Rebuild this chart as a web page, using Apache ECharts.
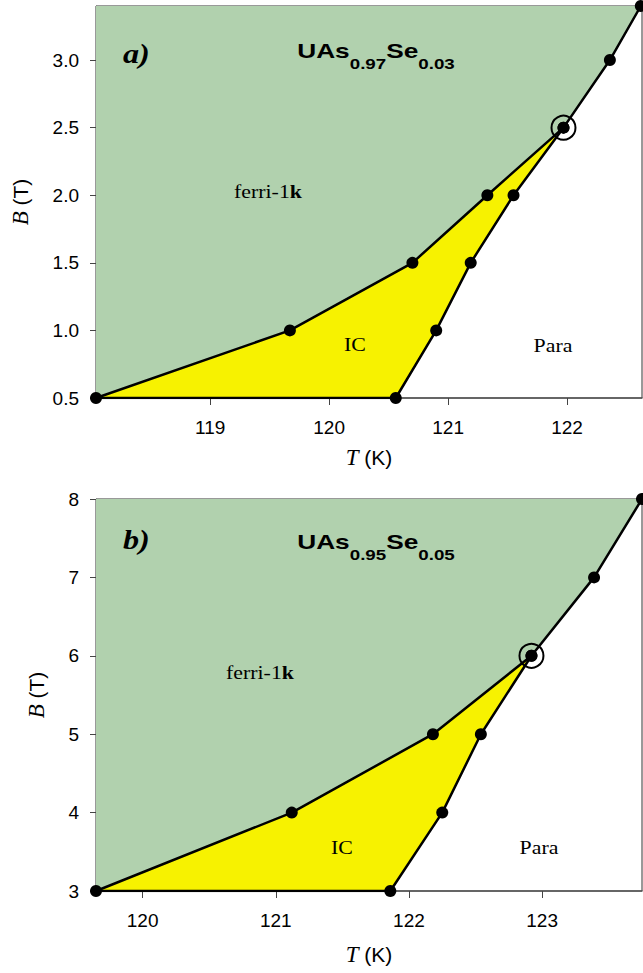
<!DOCTYPE html>
<html>
<head>
<meta charset="utf-8">
<script src="https://cdn.jsdelivr.net/npm/echarts@6/dist/echarts.min.js"></script>
<style>
  html, body { margin: 0; padding: 0; background: #fff; }
  #chart { width: 643px; height: 973px; }
</style>
</head>
<body>
<div id="chart"></div>
<script>
// panel a) UAs0.97Se0.03
const aUpperT = [118.04, 119.67, 120.70, 121.33, 121.97]
const aUpperB = [0.5, 1.0, 1.5, 2.0, 2.5]
const aLowerT = [120.56, 120.90, 121.19, 121.55, 121.97, 122.36, 122.62]
const aLowerB = [0.5, 1.0, 1.5, 2.0, 2.5, 3.0, 3.4]
const aTRange = [118.04, 122.63]
const aBRange = [0.5, 3.4]
const aTTicks = [119, 120, 121, 122]
const aBTicks = [0.5, 1.0, 1.5, 2.0, 2.5, 3.0]

// panel b) UAs0.95Se0.05
const bUpperT = [119.65, 121.12, 122.18, 122.92]
const bUpperB = [3, 4, 5, 6]
const bLowerT = [121.86, 122.25, 122.54, 122.92, 123.39, 123.75]
const bLowerB = [3, 4, 5, 6, 7, 8]
const bTRange = [119.65, 123.75]
const bBRange = [3, 8]
const bTTicks = [120, 121, 122, 123]
const bBTicks = [3, 4, 5, 6, 7, 8]

const GREEN = "#b1d1ae"
const YELLOW = "#f7f200"

const zip = (xs, ys) => xs.map((x, i) => [x, ys[i]])

// polygon as custom series
function polySeries(idx, pts, color) {
  return {
    type: "custom",
    xAxisIndex: idx,
    yAxisIndex: idx,
    silent: true,
    z: 1,
    clip: true,
    data: [pts[0]],
    renderItem: (params, api) => ({
      type: "polygon",
      shape: { points: pts.map((p) => api.coord(p)) },
      style: { fill: color },
    }),
  }
}

function lineSeries(idx, data) {
  return {
    type: "line",
    xAxisIndex: idx,
    yAxisIndex: idx,
    data: data,
    showSymbol: false,
    silent: true,
    z: 3,
    lineStyle: { color: "#000", width: 2.5 },
  }
}

function panelSeries(idx, upperT, upperB, lowerT, lowerB, tRange, bRange) {
  const upper = zip(upperT, upperB)
  const lower = zip(lowerT, lowerB)
  const k = upper.length - 1 // triple point
  const green = upper.concat(lower.slice(k + 1), [[tRange[0], bRange[1]]])
  const yellow = upper.concat(lower.slice(0, k).reverse())
  return [
    polySeries(idx, green, GREEN),
    polySeries(idx, yellow, YELLOW),
    lineSeries(idx, upper),
    lineSeries(idx, lower),
    lineSeries(idx, [upper[0], lower[0]]),
    {
      type: "scatter",
      xAxisIndex: idx,
      yAxisIndex: idx,
      data: upper.concat(lower),
      symbolSize: 12,
      clip: false,
      silent: true,
      z: 4,
      itemStyle: { color: "#000", opacity: 1 },
    },
    {
      type: "scatter",
      xAxisIndex: idx,
      yAxisIndex: idx,
      data: [upper[k]],
      symbolSize: 24,
      silent: true,
      z: 4,
      itemStyle: { color: "rgba(0,0,0,0)", borderColor: "#000", borderWidth: 2, opacity: 1 },
    },
  ]
}

const labelFont = { fontFamily: "Liberation Sans", fontSize: 19, color: "#000" }
const nameStyle = {
  fontFamily: "Liberation Sans",
  fontSize: 21,
  color: "#000",
  rich: {
    i: { fontFamily: "Liberation Serif", fontStyle: "italic", fontSize: 23, color: "#000" },
  },
}

function xAxis(idx, range, ticks, gap) {
  return {
    type: "value",
    gridIndex: idx,
    min: range[0],
    max: range[1],
    name: "{i|T} (K)",
    nameLocation: "middle",
    nameGap: gap,
    nameTextStyle: nameStyle,
    axisLine: { lineStyle: { color: "#555", width: 1.5 } },
    axisTick: { show: true, length: 7, customValues: ticks, lineStyle: { color: "#444" } },
    axisLabel: Object.assign({ margin: 20, customValues: ticks }, labelFont),
    splitLine: { show: false },
  }
}

function yAxis(idx, range, ticks, gap, digits) {
  return {
    type: "value",
    gridIndex: idx,
    min: range[0],
    max: range[1],
    name: "{i|B} (T)",
    nameLocation: "middle",
    nameGap: gap,
    nameTextStyle: nameStyle,
    axisLine: { lineStyle: { color: "#777", width: 1 } },
    axisTick: { show: true, length: 6, customValues: ticks, lineStyle: { color: "#444" } },
    axisLabel: Object.assign(
      { margin: 17, customValues: ticks, formatter: (v) => v.toFixed(digits) },
      labelFont
    ),
    splitLine: { show: false },
  }
}

// 面板文字: 编号 / 化学式 / 相区名称
function panelText(letterY, titleY, letter, formula, ferri, ic, para) {
  const serif = "Liberation Serif"
  return [
    {
      type: "text",
      z: 100,
      x: 123,
      y: letterY,
      scaleX: 1.15,
      style: { text: letter, font: "italic bold 28px 'Liberation Serif'", fill: "#000" },
    },
    {
      type: "text",
      z: 100,
      x: 376,
      y: titleY,
      scaleX: 1.25,
      style: {
        text: "{m|UAs}{s|" + formula[0] + "}{m|Se}{s|" + formula[1] + "}",
        align: "center",
        verticalAlign: "top",
        rich: {
          m: { fontFamily: "Liberation Sans", fontWeight: "bold", fontSize: 21, lineHeight: 32, verticalAlign: "top", fill: "#000", color: "#000" },
          s: { fontFamily: "Liberation Sans", fontWeight: "bold", fontSize: 15, lineHeight: 32, verticalAlign: "bottom", fill: "#000", color: "#000" },
        },
      },
    },
    {
      type: "text",
      z: 100,
      x: ferri[0],
      y: ferri[1],
      scaleX: 1.15,
      style: {
        text: "{n|ferri-1}{b|k}",
        align: "center",
        verticalAlign: "middle",
        rich: {
          n: { fontFamily: serif, fontSize: 19, fill: "#000", color: "#000" },
          b: { fontFamily: serif, fontWeight: "bold", fontSize: 19, fill: "#000", color: "#000" },
        },
      },
    },
    {
      type: "text",
      z: 100,
      x: ic[0],
      y: ic[1],
      scaleX: 1.15,
      style: { text: "IC", font: "19px 'Liberation Serif'", align: "center", verticalAlign: "middle", fill: "#000" },
    },
    {
      type: "text",
      z: 100,
      x: para[0],
      y: para[1],
      scaleX: 1.15,
      style: { text: "Para", font: "19px 'Liberation Serif'", align: "center", verticalAlign: "middle", fill: "#000" },
    },
  ]
}

const myChart = echarts.init(document.getElementById("chart"), null, { renderer: "svg" })

const option = {
  animation: false,
  backgroundColor: "#fff",
  grid: [
    { left: 96, right: 1, top: 6, height: 392, show: true, borderColor: "#333", borderWidth: 1 },
    { left: 96, right: 1, top: 499, height: 392, show: true, borderColor: "#333", borderWidth: 1 },
  ],
  xAxis: [xAxis(0, aTRange, aTTicks, 48), xAxis(1, bTRange, bTTicks, 52)],
  yAxis: [yAxis(0, aBRange, aBTicks, 64, 1), yAxis(1, bBRange, bBTicks, 48, 0)],
  series: panelSeries(0, aUpperT, aUpperB, aLowerT, aLowerB, aTRange, aBRange).concat(
    panelSeries(1, bUpperT, bUpperB, bLowerT, bLowerB, bTRange, bBRange)
  ),
  graphic: panelText(40, 40, "a)", ["0.97", "0.03"], [268, 192], [355, 345], [553, 346]).concat(
    panelText(526, 531, "b)", ["0.95", "0.05"], [260, 673], [342, 848], [539, 848])
  ),
}

myChart.setOption(option)
</script>
</body>
</html>
